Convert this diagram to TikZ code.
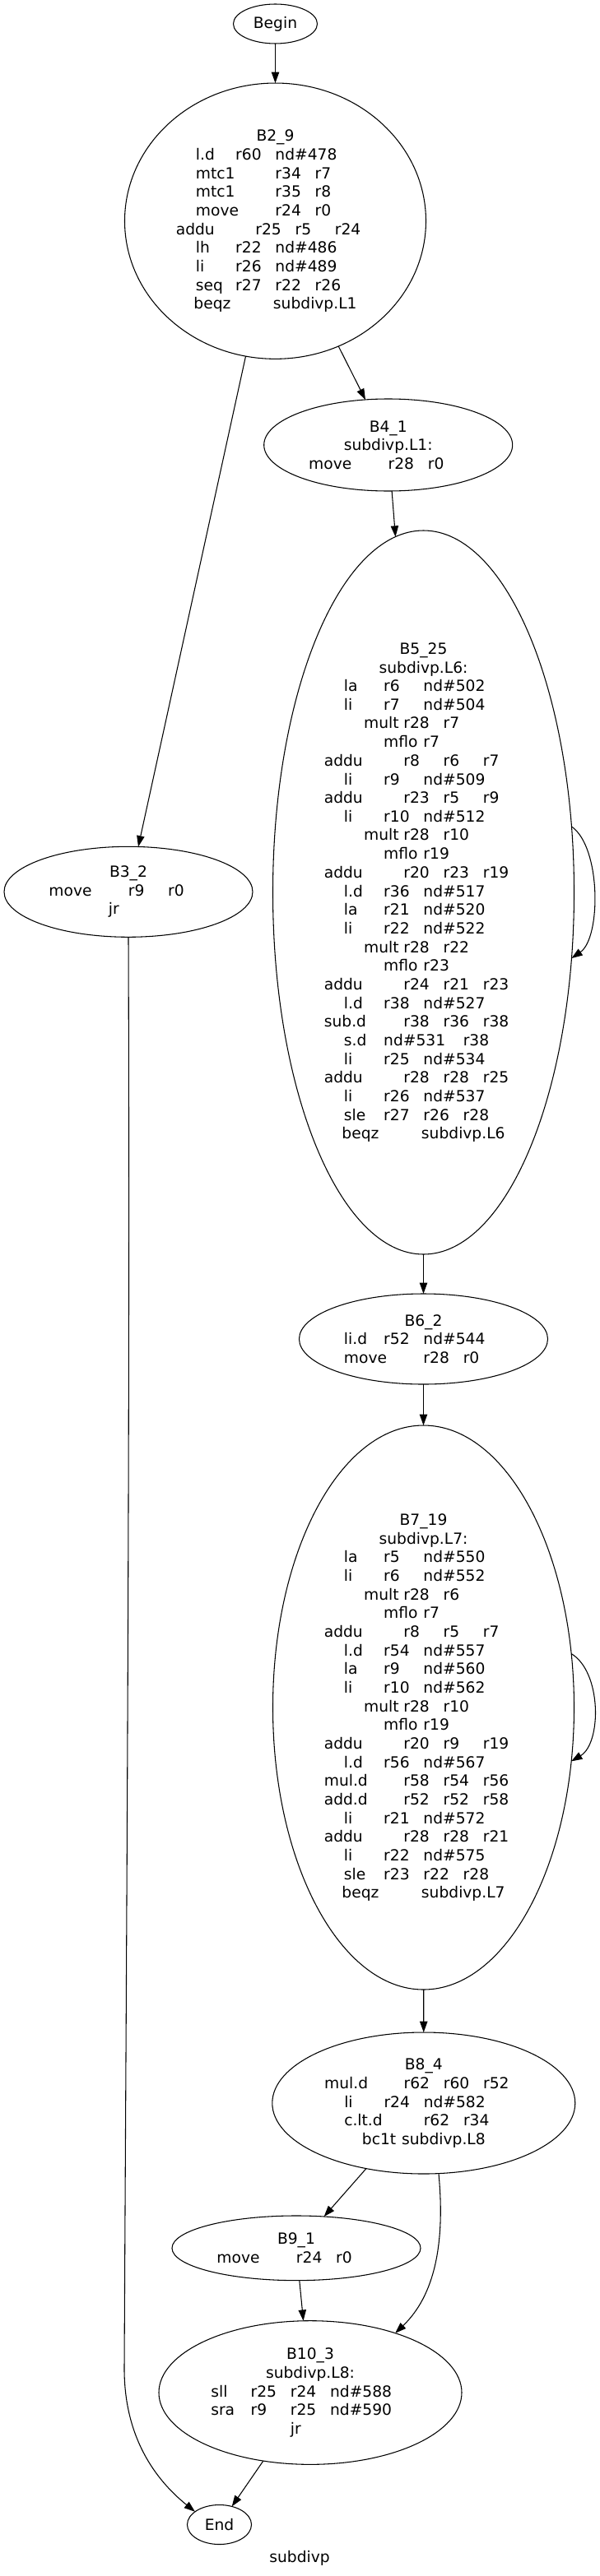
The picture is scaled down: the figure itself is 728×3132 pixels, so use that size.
\documentclass[tikz,border=0pt]{standalone}
\usepackage{fontspec}
\setmainfont{DejaVu Sans}
\usetikzlibrary{arrows.meta, shapes.geometric}
\newlength{\tabw}
\setlength{\tabw}{36.2pt}
% one field of an instruction line, #1 tab slots wide
\newcommand{\tf}[2]{\makebox[#1\tabw][l]{#2}}

\begin{document}
\begin{tikzpicture}[x=0.75pt, y=-0.75pt,
  blk/.style={ellipse, draw, line width=0.8pt, inner sep=0pt, outer sep=0pt,
    align=center, font=\fontsize{14pt}{17pt}\selectfont},
  edge/.style={line width=0.8pt, -{Triangle[length=10pt, width=7pt]}}]
\useasboundingbox (0,0) rectangle (728,3132);

\node[blk, minimum width=76.5pt, minimum height=36pt] (start) at (334.5,29) {Begin};
\node[blk, minimum width=274.5pt, minimum height=251.5pt] (b29) at (334.5,268.7)
  {B2\_9\\
   \tf1{l.d}\tf1{r60}\tf2{nd\#478}\\
   \tf2{mtc1}\tf1{r34}\tf1{r7}\\
   \tf2{mtc1}\tf1{r35}\tf1{r8}\\
   \tf2{move}\tf1{r24}\tf1{r0}\\
   \tf2{addu}\tf1{r25}\tf1{r5}\tf1{r24}\\
   \tf1{lh}\tf1{r22}\tf2{nd\#486}\\
   \tf1{li}\tf1{r26}\tf2{nd\#489}\\
   \tf1{seq}\tf1{r27}\tf1{r22}\tf1{r26}\\
   \tf2{beqz}subdivp.L1};
\node[blk, minimum width=226.5pt, minimum height=84pt] (b41) at (471.7,541)
  {B4\_1\\subdivp.L1:\\\tf2{move}\tf1{r28}\tf1{r0}};
\node[blk, minimum width=226.5pt, minimum height=82.5pt] (b32) at (156,1084.3)
  {B3\_2\\\tf2{move}\tf1{r9}\tf1{r0}\\\tf1{jr}};
\node[blk, minimum width=274.5pt, minimum height=660pt] (b525) at (514.5,1085)
  {B5\_25\\
   subdivp.L6:\\
   \tf1{la}\tf1{r6}\tf2{nd\#502}\\
   \tf1{li}\tf1{r7}\tf2{nd\#504}\\
   \tf1{mult}\tf1{r28}\tf1{r7}\\
   \tf1{mflo}\tf1{r7}\\
   \tf2{addu}\tf1{r8}\tf1{r6}\tf1{r7}\\
   \tf1{li}\tf1{r9}\tf2{nd\#509}\\
   \tf2{addu}\tf1{r23}\tf1{r5}\tf1{r9}\\
   \tf1{li}\tf1{r10}\tf2{nd\#512}\\
   \tf1{mult}\tf1{r28}\tf1{r10}\\
   \tf1{mflo}\tf1{r19}\\
   \tf2{addu}\tf1{r20}\tf1{r23}\tf1{r19}\\
   \tf1{l.d}\tf1{r36}\tf2{nd\#517}\\
   \tf1{la}\tf1{r21}\tf2{nd\#520}\\
   \tf1{li}\tf1{r22}\tf2{nd\#522}\\
   \tf1{mult}\tf1{r28}\tf1{r22}\\
   \tf1{mflo}\tf1{r23}\\
   \tf2{addu}\tf1{r24}\tf1{r21}\tf1{r23}\\
   \tf1{l.d}\tf1{r38}\tf2{nd\#527}\\
   \tf2{sub.d}\tf1{r38}\tf1{r36}\tf1{r38}\\
   \tf1{s.d}\tf2{nd\#531}\tf1{r38}\\
   \tf1{li}\tf1{r25}\tf2{nd\#534}\\
   \tf2{addu}\tf1{r28}\tf1{r28}\tf1{r25}\\
   \tf1{li}\tf1{r26}\tf2{nd\#537}\\
   \tf1{sle}\tf1{r27}\tf1{r26}\tf1{r28}\\
   \tf2{beqz}subdivp.L6};
\node[blk, minimum width=226.5pt, minimum height=82.5pt] (b62) at (514.5,1628)
  {B6\_2\\\tf1{li.d}\tf1{r52}\tf2{nd\#544}\\\tf2{move}\tf1{r28}\tf1{r0}};
\node[blk, minimum width=274.5pt, minimum height=514.5pt] (b719) at (514.5,2076)
  {B7\_19\\
   subdivp.L7:\\
   \tf1{la}\tf1{r5}\tf2{nd\#550}\\
   \tf1{li}\tf1{r6}\tf2{nd\#552}\\
   \tf1{mult}\tf1{r28}\tf1{r6}\\
   \tf1{mflo}\tf1{r7}\\
   \tf2{addu}\tf1{r8}\tf1{r5}\tf1{r7}\\
   \tf1{l.d}\tf1{r54}\tf2{nd\#557}\\
   \tf1{la}\tf1{r9}\tf2{nd\#560}\\
   \tf1{li}\tf1{r10}\tf2{nd\#562}\\
   \tf1{mult}\tf1{r28}\tf1{r10}\\
   \tf1{mflo}\tf1{r19}\\
   \tf2{addu}\tf1{r20}\tf1{r9}\tf1{r19}\\
   \tf1{l.d}\tf1{r56}\tf2{nd\#567}\\
   \tf2{mul.d}\tf1{r58}\tf1{r54}\tf1{r56}\\
   \tf2{add.d}\tf1{r52}\tf1{r52}\tf1{r58}\\
   \tf1{li}\tf1{r21}\tf2{nd\#572}\\
   \tf2{addu}\tf1{r28}\tf1{r28}\tf1{r21}\\
   \tf1{li}\tf1{r22}\tf2{nd\#575}\\
   \tf1{sle}\tf1{r23}\tf1{r22}\tf1{r28}\\
   \tf2{beqz}subdivp.L7};
\node[blk, minimum width=276pt, minimum height=129pt] (b84) at (514.8,2557)
  {B8\_4\\
   \tf2{mul.d}\tf1{r62}\tf1{r60}\tf1{r52}\\
   \tf1{li}\tf1{r24}\tf2{nd\#582}\\
   \tf2{c.lt.d}\tf1{r62}\tf1{r34}\\
   \tf1{bc1t}subdivp.L8};
\node[blk, minimum width=226.5pt, minimum height=59pt] (b91) at (360,2733.3)
  {B9\_1\\\tf2{move}\tf1{r24}\tf1{r0}};
\node[blk, minimum width=276pt, minimum height=131pt] (b103) at (377,2909)
  {B10\_3\\
   subdivp.L8:\\
   \tf1{sll}\tf1{r25}\tf1{r24}\tf2{nd\#588}\\
   \tf1{sra}\tf1{r9}\tf1{r25}\tf2{nd\#590}\\
   \tf1{jr}};
\node[blk, minimum width=58.5pt, minimum height=36pt] (stop) at (266.5,3069.5) {End};
\node[font=\fontsize{14pt}{17pt}\selectfont] (caption) at (364,3110) {subdivp};

\coordinate (bend) at (151,2880);

\draw[edge] (start) -- (b29);
\draw[edge] (b29) -- (b41);
\draw[edge] (b29) -- (b32);
\draw[edge] (b41) -- (b525);
\draw[edge] (b525.24) .. controls +(36,25) and +(36,-25) .. (b525.-24);
\draw[edge] (b525) -- (b62);
\draw[edge] (b62) -- (b719);
\draw[edge] (b719.20) .. controls +(37,22) and +(37,-22) .. (b719.-20);
\draw[edge] (b719) -- (b84);
\draw[edge] (b84) -- (b91);
\draw[edge] (b84.-78) .. controls +(8,85) and +(48,-46) .. (b103.35);
\draw[edge] (b91) -- (b103);
\draw[edge] (b103) -- (stop);
\draw[edge] (b32.south) .. controls +(2,600) and +(3,-600) .. (bend)
  .. controls +(0,90) and +(-42,-34) .. (stop.152);
\end{tikzpicture}
\end{document}
